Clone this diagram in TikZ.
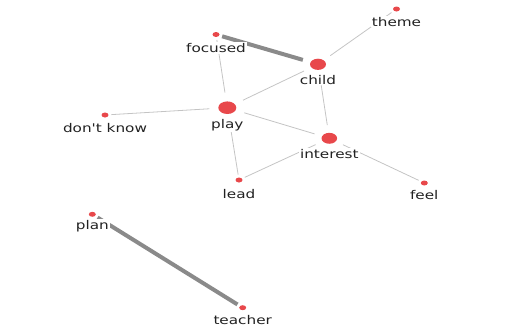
\documentclass[tikz,border=0pt]{standalone}
\usepackage{fontspec}
\newfontfamily\lblfont[FakeStretch=1.27]{DejaVu Sans}
\usetikzlibrary{shapes.geometric}
\definecolor{dotred}{HTML}{E8484B}
\definecolor{thinedge}{HTML}{C4C4C4}
\definecolor{thickedge}{HTML}{8A8A8A}
\definecolor{txt}{HTML}{222222}
\tikzset{
  bigdot/.style={ellipse, fill=dotred, inner sep=0pt, minimum width=#1*2pt, minimum height=#1*1.4pt, outer sep=#1*1pt},
  smalldot/.style={ellipse, fill=dotred, inner sep=0pt, minimum width=7pt, minimum height=5pt, outer sep=3pt},
  thin edge/.style={draw=thinedge, line width=0.8pt},
  thick edge/.style={draw=thickedge, line width=4pt},
  lbl/.style={font=\lblfont\fontsize{12}{14}\selectfont, text=txt, fill=white, inner sep=1pt, anchor=base}
}
\begin{document}
\begin{tikzpicture}[x=1pt,y=-1pt]
\useasboundingbox (0,0) rectangle (524,335);
% dots
\node[smalldot] (theme) at (396.5,9) {};
\node[smalldot] (focused) at (216,34.5) {};
\node[bigdot=8] (child) at (318,64.3) {};
\node[bigdot=9] (play) at (227.3,107.7) {};
\node[smalldot] (dontknow) at (105,115) {};
\node[bigdot=7.8] (interest) at (329.3,138.3) {};
\node[smalldot] (lead) at (239,180) {};
\node[smalldot] (feel) at (424.3,183) {};
\node[smalldot] (plan) at (92.3,214.3) {};
\node[smalldot] (teacher) at (242.7,307.7) {};
% edges
\draw[thin edge] (theme) -- (child);
\draw[thin edge] (focused) -- (play);
\draw[thin edge] (child) -- (play);
\draw[thin edge] (child) -- (interest);
\draw[thin edge] (play) -- (dontknow);
\draw[thin edge] (play) -- (interest);
\draw[thin edge] (play) -- (lead);
\draw[thin edge] (interest) -- (lead);
\draw[thin edge] (interest) -- (feel);
\draw[thick edge] (focused) -- (child);
\draw[thick edge] (plan) -- (teacher);
% labels
\node[lbl] (themeL) at ([yshift=-17pt]theme.center) {theme};
\node[lbl] (focusedL) at ([yshift=-18pt]focused.center) {focused};
\node[lbl] (childL) at ([yshift=-20pt]child.center) {child};
\node[lbl] (playL) at ([yshift=-20.5pt]play.center) {play};
\node[lbl] (dontknowL) at ([yshift=-17pt]dontknow.center) {don't know};
\node[lbl] (interestL) at ([yshift=-20pt]interest.center) {interest};
\node[lbl] (leadL) at ([yshift=-18pt]lead.center) {lead};
\node[lbl] (feelL) at ([yshift=-16pt]feel.center) {feel};
\node[lbl] (planL) at ([yshift=-15pt]plan.center) {plan};
\node[lbl] (teacherL) at ([yshift=-17pt]teacher.center) {teacher};
\end{tikzpicture}
\end{document}
